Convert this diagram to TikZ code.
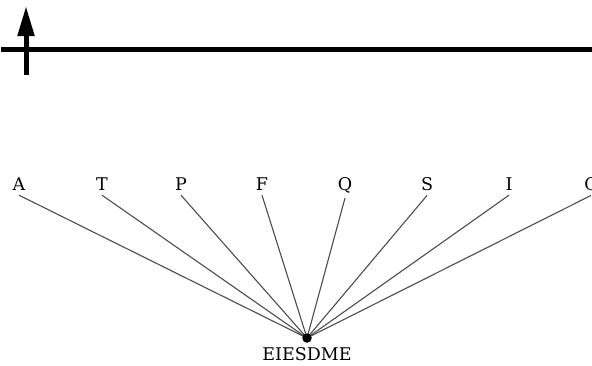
\documentclass[tikz,border=0pt]{standalone}
\usepackage{fontspec}
\setmainfont{DejaVu Serif}
\usetikzlibrary{arrows.meta}
\begin{document}
\begin{tikzpicture}[x=1pt,y=-1pt,
  leaf/.style={font=\fontsize{17.5}{20}\selectfont, inner sep=1pt, anchor=base},
  spoke/.style={draw=black!70, line width=1.1pt},
  hubdot/.style={circle, fill=black, inner sep=0pt, minimum size=9.5pt},
  axis/.style={line width=5pt}]
\useasboundingbox (0,0) rectangle (592,365);
% top axis with upward marker
\coordinate (ax0) at (1,49);
\coordinate (ax1) at (592,49);
\draw[axis] (ax0) -- (ax1);
\coordinate (mk0) at (26,75);
\coordinate (mk1) at (26,6);
\draw[axis, -{Triangle[width=16pt,length=30pt]}] (mk0) -- (mk1);
% leaves
\node[leaf] (A) at (19,190) {A};
\node[leaf] (T) at (102,190) {T};
\node[leaf] (P) at (181,190) {P};
\node[leaf] (F) at (262,190) {F};
\node[leaf] (Q) at (345,190) {Q};
\node[leaf] (S) at (427,190) {S};
\node[leaf] (I) at (509,190) {I};
\node[leaf] (C) at (591,190) {C};
% hub
\coordinate (h) at (307,338);
\foreach \n in {A,T,P,F,Q,S,I,C}
  \draw[spoke] ([yshift=-4pt]\n.south) -- (h);
\node[hubdot] (hub) at (h) {};
\node[leaf] (root) at (307,360) {EIESDME};
\end{tikzpicture}
\end{document}
